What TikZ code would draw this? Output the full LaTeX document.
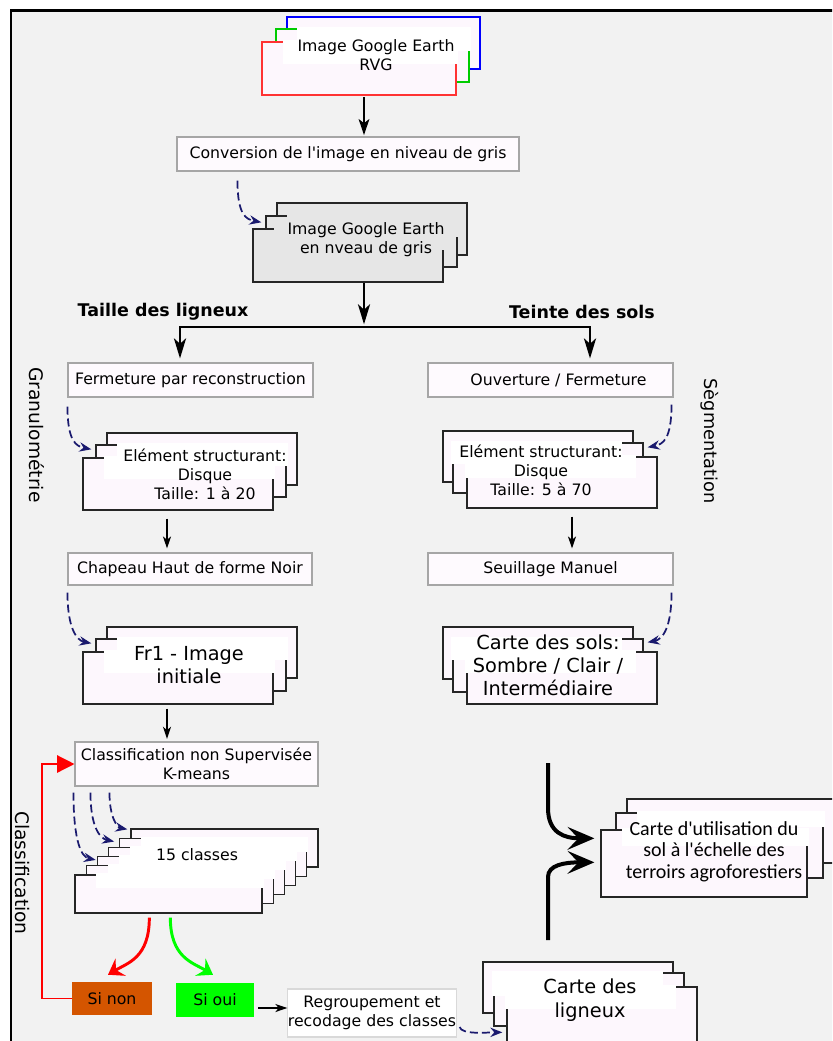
\documentclass[tikz,border=0pt]{standalone}
\usepackage{fontspec}
\setmainfont{DejaVu Sans}
\newfontfamily\calib{Carlito}
\usetikzlibrary{arrows.meta,calc,fit}
\definecolor{bgc}{HTML}{F2F2F2}
\definecolor{pk}{HTML}{FDF7FD}
\definecolor{bx}{HTML}{FEFAFE}
\definecolor{grf}{HTML}{E6E6E6}
\definecolor{nv}{HTML}{1A1A6E}
\definecolor{orn}{HTML}{D45500}
\definecolor{grn}{HTML}{00FF00}
\definecolor{rd}{HTML}{FF0000}
\newcommand\lyrB[6][]{\node[lay,#1,fit={(#3,#4) (#5,#6)}] (#2) {};}
\newcommand\lyrL[8][]{\node[lay,#1,fit={(#4,#5) (#6,#7)}] (#2) {};
  \fill[#3] ($(#2.north west)+(22,-1)$) rectangle ($(#2.north east)+(1,#8)$);}
\newcommand\lyrR[8][]{\node[lay,#1,fit={(#4,#5) (#6,#7)}] (#2) {};
  \fill[#3] ($(#2.north west)+(-1,-1)$) rectangle ($(#2.north east)+(-22,#8)$);}
\tikzset{
  nfont/.style={font=\fontsize{11.8}{14.3}\selectfont},
  lfont/.style={font=\fontsize{14.5}{17.3}\selectfont},
  lay/.style={draw=black!85, fill=pk, line width=1pt, inner sep=0pt},
  pbox/.style={draw=black!35, line width=0.8pt, fill=bx, inner sep=0pt, nfont, align=center},
  txt/.style={inner sep=0pt, align=center, nfont},
  marr/.style={line width=1.6pt, -{Stealth[length=12pt,width=8pt,inset=3pt]}},
  bigarr/.style={line width=2.2pt, line join=miter},
  sarr/.style={line width=1.1pt, -{Stealth[length=9pt,width=6pt,inset=2.5pt]}},
  darr/.style={draw=nv, line width=1.3pt, dash pattern=on 6pt off 3pt, -{Stealth[length=9pt,width=7pt,inset=3pt]}},
  colarr/.style={line width=2.2pt, -{Stealth[length=11pt,width=15pt,inset=4pt]}},
  bracearr/.style={line width=3pt, -{Stealth[length=20pt,width=17pt,inset=8pt]}},
  blab/.style={inner sep=0pt, font=\fontsize{13.1}{15}\selectfont\bfseries},
  rlab/.style={inner sep=0pt, rotate=-90}
}
\begin{document}
\begin{tikzpicture}[x=0.75pt,y=-0.75pt]
\useasboundingbox (0,0) rectangle (832,1041);
\clip (0,0) rectangle (832,1041);
\fill[white] (0,0) rectangle (832,1041);
\draw[fill=bgc, line width=2pt] (11,10.5) rectangle (850,1060);

% ---------- top RVG stack
\lyrB[draw=blue]{r1}{287}{17}{480}{69}
\lyrL[draw=green!80!black]{r2}{white}{276}{29}{469}{82}{23}
\lyrL[draw=red!80]{r3}{white}{262}{42}{456}{95}{23}
\node[txt] (rvgt) at (376,55.5) {Image Google Earth\\RVG};

\coordinate (bm) at (364,327);
\coordinate (bl) at (180,327);
\coordinate (br) at (590,327);
\coordinate (cl) at (167,0);
\coordinate (cr) at (572,0);

\node[pbox, minimum width=256.5pt, minimum height=25.5pt] (conv) at (348,154) {Conversion de l\textquotesingle image en niveau de gris};
\draw[marr, shorten <=1pt, shorten >=1pt] (r3.south -| bm) -- (conv.north -| bm);

% ---------- grey stack
\lyrB[fill=grf]{g1}{277}{203}{467}{255}
\lyrL[fill=grf]{g2}{grf}{266}{216}{457}{267}{22}
\lyrL[fill=grf]{g3}{grf}{253}{229}{443}{282}{22}
\node[txt] (gt) at (366,240) {Image Google Earth\\en nveau de gris};
\draw[darr] ($(conv.south west)+(61,9)$) .. controls +(0,35) and +(-15,-3) .. ($(g2.north west)+(-4,7)$);

% ---------- branch
\draw[bigarr, -{Stealth[length=15pt,width=9pt,inset=4pt]}, shorten >=2pt] (g3.south -| bm) -- (bm);
\node[blab] (tl) at (163,312) {Taille des ligneux};
\node[blab] (ts) at (582,312) {Teinte des sols};

\node[pbox, minimum width=183.75pt, minimum height=25.5pt] (ferm) at (190.5,380) {Fermeture par reconstruction};
\node[pbox, minimum width=183.75pt, minimum height=25.5pt] (ouv) at (550.5,380) {\hspace*{12pt}Ouverture / Fermeture};
\draw[bigarr, {Stealth[length=15pt,width=9pt,inset=4pt]}-{Stealth[length=15pt,width=9pt,inset=4pt]}, shorten <=3pt, shorten >=3pt]
  (ferm.north -| bl) -- (bl) -- (br) -- (ouv.north -| br);

\node[rlab, font=\fontsize{14}{16}\selectfont] (granu) at (37,435) {Granulométrie};
\node[rlab, font=\fontsize{13.3}{15}\selectfont] (segm) at (710,441) {Sègmentation};

% ---------- element structurant left
\lyrB{e1a}{107}{433}{297}{485}
\lyrL{e1b}{white}{96}{445}{286}{497}{22}
\lyrL{e1c}{white}{83}{458}{273}{510}{22}
\node[txt] (e1t) at (205,474) {Elément structurant:\\Disque\\Taille: 1 à 20};
\draw[darr] ($(ferm.south west)+(0,9)$) .. controls +(0,35) and +(-15,-3) .. ($(e1b.north west)+(-4,5)$);

% ---------- element structurant right
\lyrB{e2a}{443}{431}{633}{482}
\lyrR{e2b}{white}{453}{443}{643}{493}{22}
\lyrR{e2c}{white}{467}{457}{657}{508}{22}
\node[txt] (e2t) at (541,470) {Elément structurant:\\Disque\\Taille: 5 à 70};
\draw[darr] ($(ouv.south east)+(-2,7)$) .. controls +(0,35) and +(15,-3) .. ($(e2b.north east)+(4,5)$);

% ---------- chapeau / seuillage
\node[pbox, minimum width=183pt, minimum height=24pt] (chap) at (190,569) {Chapeau Haut de forme Noir};
\node[pbox, minimum width=183.75pt, minimum height=24pt] (seuil) at (550.5,569) {Seuillage Manuel};
\draw[sarr, shorten <=6pt, shorten >=3pt] (e1c.south -| cl) -- (chap.north -| cl);
\draw[sarr, shorten <=6pt, shorten >=3pt] (e2c.south -| cr) -- (seuil.north -| cr);

% ---------- Fr1
\lyrB{f1}{107}{627}{297}{678}
\lyrL{f2}{white}{96}{639}{286}{691}{22}
\lyrL{f3}{white}{83}{652}{273}{704}{22}
\node[txt, lfont] (f3t) at (189,665.5) {Fr1 - Image\\initiale};
\draw[darr] ($(chap.south west)+(0,7)$) .. controls +(0,35) and +(-15,-3) .. ($(f2.north west)+(-4,5)$);

% ---------- carte des sols
\lyrB{s1}{443}{627}{633}{679}
\lyrR{s2}{white}{453}{639}{643}{692}{22}
\lyrR{s3}{white}{467}{652}{657}{704}{22}
\node[txt, lfont] (s3t) at (548,665) {Carte des sols:\\Sombre / Clair /\\Intermédiaire};
\draw[darr] ($(seuil.south east)+(-2,7)$) .. controls +(0,35) and +(15,-3) .. ($(s2.north east)+(4,4)$);

% ---------- classification
\node[pbox, minimum width=182.25pt, minimum height=33pt] (cls) at (196.5,764) {Classification non Supervisée\\K-means};
\draw[sarr, shorten <=3pt, shorten >=2pt] (f3.south -| cl) -- (cls.north -| cl);
\node[rlab, font=\fontsize{14}{16}\selectfont] (clas) at (22,873) {Classification};

% ---------- 15 classes
\lyrB{k0}{131}{829}{318}{867}
\lyrL{k1}{white}{119.8}{838.2}{306.8}{876.2}{14}
\lyrL{k2}{white}{108.6}{847.4}{295.6}{885.4}{14}
\lyrL{k3}{white}{97.4}{856.6}{284.4}{894.6}{14}
\lyrL{k4}{white}{86.2}{865.8}{273.2}{903.8}{14}
\lyrL{k5}{white}{75}{875}{262}{913}{14}
\node[txt] (kt) at (197,855) {15 classes};
\draw[darr] ($(cls.south west)+(-1,6)$) .. controls +(0,50) and +(-14,-3) .. ($(k3.north west)+(-1,4)$);
\draw[darr] ($(cls.south west)+(16,6)$) .. controls +(0,35) and +(-14,-3) .. ($(k1.north west)+(-5,4)$);
\draw[darr] ($(cls.south west)+(35,6)$) .. controls +(0,25) and +(-10,-2) .. ($(k0.north west)+(-3,1)$);

% ---------- si non / si oui
\node[txt, fill=orn, minimum width=60pt, minimum height=24.75pt] (sinon) at (112,998.5) {Si non};
\node[txt, fill=grn, minimum width=58.5pt, minimum height=25.5pt] (sioui) at (215,1000) {Si oui};
\draw[colarr, draw=rd] ($(k5.south west)+(75,4)$) .. controls +(0,40) and +(20,-12) .. ($(sinon.north)+(-4,-7)$);
\draw[colarr, draw=grn] ($(k5.south west)+(96,4)$) .. controls +(0,40) and +(-20,-12) .. ($(sioui.north)+(-2,-8)$);
\coordinate (fb) at (42,764);
\draw[draw=rd, line width=1pt, -{Triangle[length=13pt,width=13pt]}] (sinon.west) -| (fb) -- (cls.west);

\node[pbox, draw=black!15, fill=white, minimum width=126pt, minimum height=36pt] (regr) at (372,1013) {Regroupement et\\recodage des classes};
\draw[sarr] ($(sioui.east)+(4,8)$) -- ($(regr.west)+(0,-5)$);

% ---------- carte des ligneux
\lyrB{l1}{483}{962}{673}{1013}
\lyrR{l2}{white}{494}{973}{684}{1026}{24}
\lyrR{l3}{white}{507}{987}{697}{1060}{23}
\node[txt, font=\fontsize{14.5}{18}\selectfont] (l3t) at (590,1000) {Carte des\\ligneux};
\draw[darr] ($(regr.east)+(3,14)$) .. controls +(2,8) and +(-15,0) .. ($(l3.north west)+(-4,46)$);

% ---------- carte d'utilisation
\lyrB{u1}{627}{799}{845}{863}
\lyrL{u2}{white}{616}{813}{823}{878}{15}
\lyrL{u3}{white}{601}{830}{807}{897}{17}
\node[inner sep=0pt, align=center, font=\calib\fontsize{15}{16}\selectfont] (u3t) at (714,851.5) {Carte d'utilisation du\\sol à l'échelle des\\terroirs agroforestiers};
\coordinate (bt) at (548,763);
\coordinate (bb) at (548,940);
\draw[bracearr] (bt) -- ++(0,45) .. controls +(0,25) and +(-30,0) .. ($(u3.north west)+(-6,9)$);
\draw[bracearr] (bb) -- ++(0,-63) .. controls +(0,-12) and +(-30,0) .. ($(u3.north west)+(-6,33)$);
\end{tikzpicture}
\end{document}
